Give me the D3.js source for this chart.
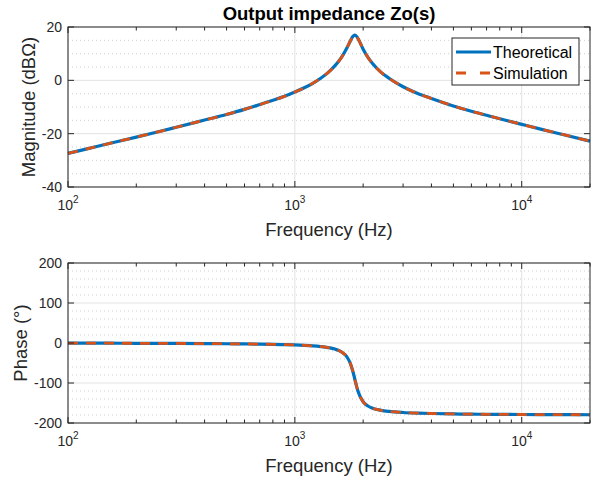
<!DOCTYPE html>
<html>
<head>
<meta charset="utf-8">
<script src="https://cdn.jsdelivr.net/npm/d3@7"></script>
<style>
  body { margin: 0; background: #fff; }
  svg { display: block; font-family: "Liberation Sans", Arial, sans-serif; }
</style>
</head>
<body>
<svg id="chart" width="599" height="478"></svg>
<script>
// frequencies (Hz)
const freq = [100, 120, 150, 200, 250, 300, 400, 500, 600, 700, 800, 900, 1000,
  1100, 1200, 1300, 1400, 1500, 1600, 1700, 1750, 1800, 1837, 1875, 1900,
  2000, 2100, 2200, 2400, 2600, 3000, 3500, 4000, 5000, 6000, 7000, 8000,
  10000, 12000, 15000, 20000];

// magnitude (dB ohm)
const magTheory = [-27.4, -25.8, -23.8, -21.3, -19.3, -17.6, -14.9, -12.8, -10.9, -9.1,
  -7.5, -6.0, -4.4, -2.8, -1.1, 0.8, 2.9, 5.4, 8.4, 12.3, 14.5, 16.4, 17.0, 16.4,
  15.6, 11.7, 8.6, 6.3, 3.0, 0.8, -2.4, -5.0, -6.8, -9.6, -11.6, -13.1, -14.4,
  -16.5, -18.2, -20.2, -22.8];
const magSim = [-27.4, -25.8, -23.8, -21.3, -19.3, -17.6, -14.9, -12.8, -10.9, -9.1,
  -7.5, -6.0, -4.4, -2.8, -1.1, 0.8, 2.9, 5.4, 8.4, 12.3, 14.5, 16.4, 17.0, 16.4,
  15.6, 11.7, 8.6, 6.3, 3.0, 0.8, -2.4, -5.0, -6.8, -9.6, -11.6, -13.1, -14.4,
  -16.5, -18.2, -20.2, -22.8];

// phase (deg)
const phTheory = [-0.4, -0.4, -0.5, -0.7, -0.9, -1.1, -1.5, -1.9, -2.3, -2.8, -3.4,
  -4.1, -4.9, -5.9, -7.2, -9.0, -11.4, -15.2, -21.9, -35.6, -48.9, -69.9, -90,
  -110.2, -121.3, -146.9, -157.5, -163.0, -168.4, -171.1, -173.8, -175.4, -176.3,
  -177.3, -177.9, -178.2, -178.5, -178.8, -179.0, -179.2, -179.4];
const phSim = [-0.4, -0.4, -0.5, -0.7, -0.9, -1.1, -1.5, -1.9, -2.3, -2.8, -3.4,
  -4.1, -4.9, -5.9, -7.2, -9.0, -11.4, -15.2, -21.9, -35.6, -48.9, -69.9, -90,
  -110.2, -121.3, -146.9, -157.5, -163.0, -168.4, -171.1, -173.8, -175.4, -176.3,
  -177.3, -177.9, -178.2, -178.5, -178.8, -179.0, -179.2, -179.4];

// tick values
const xMajor = [100, 1000, 10000];
const xMinor = [200, 300, 400, 500, 600, 700, 800, 900, 2000, 3000, 4000, 5000,
  6000, 7000, 8000, 9000, 20000];
const xExp = ["2", "3", "4"];
const magTicks = [-40, -20, 0, 20];
const magMinor = [-35, -30, -25, -15, -10, -5, 5, 10, 15];
const phTicks = [-200, -100, 0, 100, 200];
const phMinor = [-180, -160, -140, -120, -80, -60, -40, -20, 20, 40, 60, 80, 120, 140, 160, 180];
const seriesNames = ["Theoretical", "Simulation"];

const blue = "#0072BD", orange = "#D95319", axisColor = "#262626";

const svg = d3.select("#chart");
const left = 68, right = 590;

const x = d3.scaleLog().domain([100, 20000]).range([left, right]);

function drawPanel(top, bottom, yDomain, yMajor, yMinor, yTheory, ySim, ylab, ylabX, xlabY) {
  const y = d3.scaleLinear().domain(yDomain).range([bottom, top]);
  const g = svg.append("g");

  // minor horizontal grid (dotted)
  g.selectAll(".ymin").data(yMinor).enter().append("line")
    .attr("x1", left).attr("x2", right)
    .attr("y1", d => y(d)).attr("y2", d => y(d))
    .attr("stroke", "#cfcfcf").attr("stroke-width", 1)
    .attr("stroke-dasharray", "1 3");

  // major grid
  g.selectAll(".ymaj").data(yMajor).enter().append("line")
    .attr("x1", left).attr("x2", right)
    .attr("y1", d => y(d)).attr("y2", d => y(d))
    .attr("stroke", "#e3e3e3").attr("stroke-width", 1);
  g.selectAll(".xmaj").data(xMajor).enter().append("line")
    .attr("x1", d => x(d)).attr("x2", d => x(d))
    .attr("y1", top).attr("y2", bottom)
    .attr("stroke", "#e3e3e3").attr("stroke-width", 1);

  // curves
  const line = d3.line().x((d, i) => x(freq[i])).y(d => y(d)).curve(d3.curveMonotoneX);
  g.append("path").datum(yTheory).attr("d", line)
    .attr("fill", "none").attr("stroke", blue).attr("stroke-width", 3.2);
  g.append("path").datum(ySim).attr("d", line)
    .attr("fill", "none").attr("stroke", orange).attr("stroke-width", 2.8)
    .attr("stroke-dasharray", "10 8");

  // box
  g.append("rect").attr("x", left).attr("y", top)
    .attr("width", right - left).attr("height", bottom - top)
    .attr("fill", "none").attr("stroke", axisColor).attr("stroke-width", 1);

  // x ticks (inward, both edges)
  const tk = g.append("g").attr("stroke", axisColor).attr("stroke-width", 1);
  xMajor.forEach(v => {
    tk.append("line").attr("x1", x(v)).attr("x2", x(v)).attr("y1", bottom).attr("y2", bottom - 6);
    tk.append("line").attr("x1", x(v)).attr("x2", x(v)).attr("y1", top).attr("y2", top + 6);
  });
  xMinor.forEach(v => {
    tk.append("line").attr("x1", x(v)).attr("x2", x(v)).attr("y1", bottom).attr("y2", bottom - 3.5);
    tk.append("line").attr("x1", x(v)).attr("x2", x(v)).attr("y1", top).attr("y2", top + 3.5);
  });
  yMajor.forEach(v => {
    tk.append("line").attr("x1", left).attr("x2", left + 6).attr("y1", y(v)).attr("y2", y(v));
    tk.append("line").attr("x1", right).attr("x2", right - 6).attr("y1", y(v)).attr("y2", y(v));
  });

  // y tick labels
  g.selectAll(".ylab").data(yMajor).enter().append("text")
    .attr("x", left - 6).attr("y", d => y(d) + 5)
    .attr("text-anchor", "end").attr("fill", axisColor)
    .style("font-size", "14px").text(d => d);

  // x tick labels 10^n
  xMajor.forEach((v, i) => {
    const t = g.append("text").attr("x", x(v)).attr("y", bottom + 23)
      .attr("text-anchor", "middle").attr("fill", axisColor).style("font-size", "14px");
    t.append("tspan").text("10");
    t.append("tspan").attr("dy", -7).style("font-size", "10px").text(xExp[i]);
  });

  // axis labels
  g.append("text").attr("x", (left + right) / 2).attr("y", xlabY)
    .attr("text-anchor", "middle").attr("fill", axisColor)
    .style("font-size", "18.5px").text("Frequency (Hz)");
  g.append("text")
    .attr("transform", `translate(${ylabX},${(top + bottom) / 2}) rotate(-90)`)
    .attr("text-anchor", "middle").attr("fill", axisColor)
    .style("font-size", "18.5px").text(ylab);

  return y;
}

drawPanel(27, 187, [-40, 20], magTicks, magMinor, magTheory, magSim, "Magnitude (dBΩ)", 35, 236);
drawPanel(263, 423, [-200, 200], phTicks, phMinor, phTheory, phSim, "Phase (°)", 27, 472);

// title
svg.append("text").attr("x", (left + right) / 2).attr("y", 20)
  .attr("text-anchor", "middle").attr("fill", "#000")
  .style("font-size", "18.5px").style("font-weight", "bold")
  .text("Output impedance Zo(s)");

// legend
const lg = svg.append("g");
lg.append("rect").attr("x", 452).attr("y", 38).attr("width", 127).attr("height", 47)
  .attr("fill", "#fff").attr("stroke", axisColor).attr("stroke-width", 1);
const legColors = [blue, orange];
const legDash = [null, "10 14"];
seriesNames.forEach((name, i) => {
  const ly = 52 + i * 21;
  lg.append("line").attr("x1", 456).attr("x2", 491).attr("y1", ly).attr("y2", ly)
    .attr("stroke", legColors[i]).attr("stroke-width", 3)
    .attr("stroke-dasharray", legDash[i]);
  lg.append("text").attr("x", 493).attr("y", ly + 5.5)
    .attr("fill", "#000").style("font-size", "16px").text(name);
});
</script>
</body>
</html>
